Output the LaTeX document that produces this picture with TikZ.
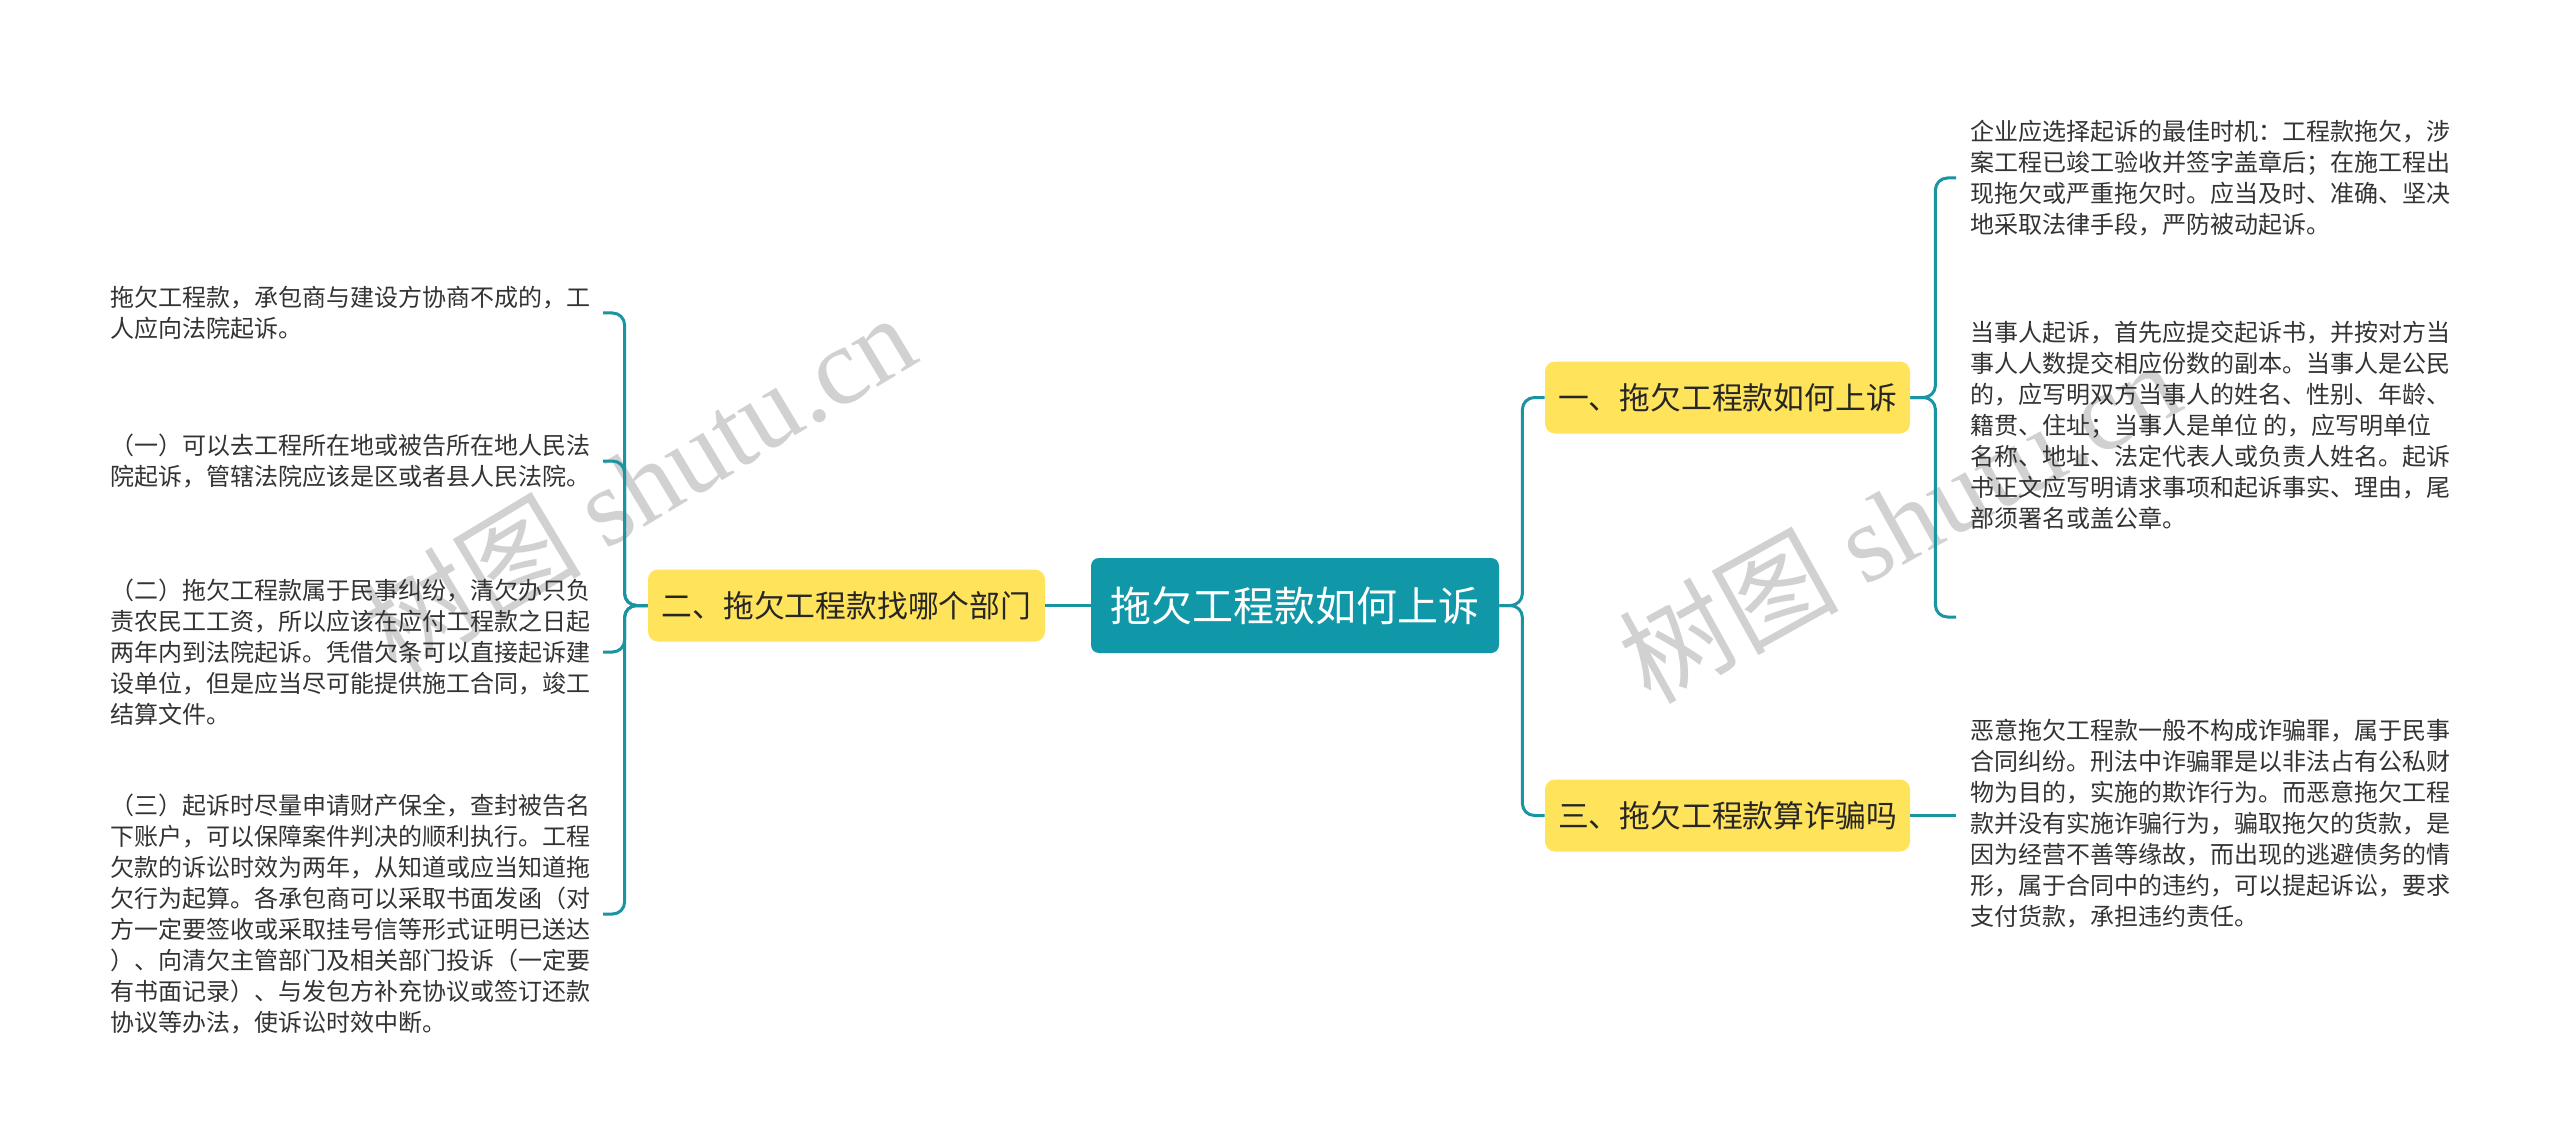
\documentclass[tikz,border=0pt]{standalone}
\usepackage{fontspec}
\setmainfont{Noto Sans CJK SC}
\newfontfamily\wmfont{Liberation Serif}
\definecolor{rootteal}{HTML}{1198A8}
\definecolor{lineteal}{HTML}{1A93A3}
\definecolor{boxyellow}{HTML}{FFE35A}
\definecolor{leaftext}{HTML}{333333}
\begin{document}
\begin{tikzpicture}[x=0.5pt,y=-0.5pt,
	rootbox/.style={fill=rootteal,text=white,rounded corners=4pt,minimum width=204pt,minimum height=47.5pt,font=\fontsize{20.5pt}{24pt}\selectfont},
	topicbox/.style={fill=boxyellow,text=black!85,rounded corners=5pt,minimum height=36pt,font=\fontsize{15.4pt}{18pt}\selectfont},
	leafL/.style={anchor=east,align=left,inner xsep=6pt,text=leaftext,font=\fontsize{12pt}{15.5pt}\selectfont},
	leafR/.style={anchor=west,align=left,inner xsep=7pt,text=leaftext,font=\fontsize{12pt}{15.5pt}\selectfont},
	conn/.style={draw=lineteal,line width=1.5pt,rounded corners=6pt},
	wmark/.style={text=black!18,anchor=base west,rotate=29,font=\fontsize{55pt}{55pt}\selectfont}]
		\tikzstyle{every node}+=[inner ysep=0pt]
		\fill [white] (0,0) rectangle (2560,1139);
		\useasboundingbox (0,0) rectangle (2560,1139);
		\node [wmark,rotate=2] (wm1) at (390,680) {树图 {\wmfont shutu.cn}};
		\node [wmark] (wm2) at (1644,709) {树图 {\wmfont shutu.cn}};
		\node [rootbox] (root) at (1295,605.5) {拖欠工程款如何上诉};
		\node [topicbox,minimum width=198.5pt] (t2) at (846.5,605.5) {二、拖欠工程款找哪个部门};
		\node [topicbox,minimum width=182.5pt] (t1) at (1727.5,397.5) {一、拖欠工程款如何上诉};
		\node [topicbox,minimum width=182.5pt] (t3) at (1727.5,815.5) {三、拖欠工程款算诈骗吗};
		\node [leafL] (la) at (603,313) {拖欠工程款，承包商与建设方协商不成的，工\\人应向法院起诉。};
		\node [leafL] (lb) at (603,461) {（一）可以去工程所在地或被告所在地人民法\\院起诉，管辖法院应该是区或者县人民法院。};
		\node [leafL] (lc) at (603,652) {（二）拖欠工程款属于民事纠纷，清欠办只负\\责农民工工资，所以应该在应付工程款之日起\\两年内到法院起诉。凭借欠条可以直接起诉建\\设单位，但是应当尽可能提供施工合同，竣工\\结算文件。};
		\node [leafL] (ld) at (603,914) {（三）起诉时尽量申请财产保全，查封被告名\\下账户，可以保障案件判决的顺利执行。工程\\欠款的诉讼时效为两年，从知道或应当知道拖\\欠行为起算。各承包商可以采取书面发函（对\\方一定要签收或采取挂号信等形式证明已送达\\）、向清欠主管部门及相关部门投诉（一定要\\有书面记录）、与发包方补充协议或签订还款\\协议等办法，使诉讼时效中断。};
		\node [leafR] (le) at (1956,178) {企业应选择起诉的最佳时机：工程款拖欠，涉\\案工程已竣工验收并签字盖章后；在施工程出\\现拖欠或严重拖欠时。应当及时、准确、坚决\\地采取法律手段，严防被动起诉。};
		\node [leafR] (lf) at (1956,425) {当事人起诉，首先应提交起诉书，并按对方当\\事人人数提交相应份数的副本。当事人是公民\\的，应写明双方当事人的姓名、性别、年龄、\\籍贯、住址；当事人是单位 的，应写明单位\\名称、地址、法定代表人或负责人姓名。起诉\\书正文应写明请求事项和起诉事实、理由，尾\\部须署名或盖公章。};
		\node [leafR] (lg) at (1956,824) {恶意拖欠工程款一般不构成诈骗罪，属于民事\\合同纠纷。刑法中诈骗罪是以非法占有公私财\\物为目的，实施的欺诈行为。而恶意拖欠工程\\款并没有实施诈骗行为，骗取拖欠的货款，是\\因为经营不善等缘故，而出现的逃避债务的情\\形，属于合同中的违约，可以提起诉讼，要求\\支付货款，承担违约责任。};
		\draw [conn] (root.west) -- (t2.east);
		\draw [conn] (root.east) -- ++(23,0) |- (t1.west);
		\draw [conn] (root.east) -- ++(23,0) |- (t3.west);
		\draw [conn] (t2.west) -- ++(-23,0) |- (la.east);
		\draw [conn] (t2.west) -- ++(-23,0) |- (lb.east);
		\draw [conn] (t2.west) -- ++(-23,0) |- (lc.east);
		\draw [conn] (t2.west) -- ++(-23,0) |- (ld.east);
		\draw [conn] (t1.east) -- ++(25,0) |- (le.west);
		\draw [conn] (t1.east) -- ++(25,0) |- ([yshift=-96pt]lf.west);
		\draw [conn] (t3.east) -- (t3.east -| lg.west);
	\end{tikzpicture}
\end{document}
